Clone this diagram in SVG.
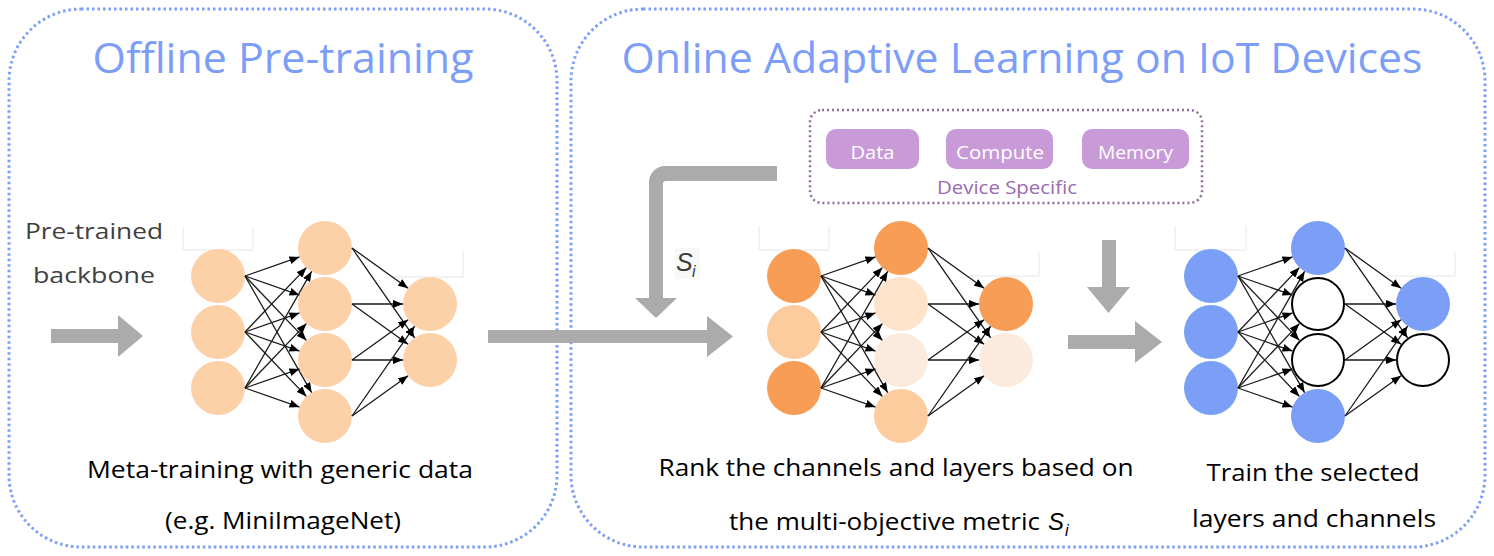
<svg xmlns="http://www.w3.org/2000/svg" xmlns:xlink="http://www.w3.org/1999/xlink" width="1494" height="556" viewBox="0 0 1494 556">
<style>
.panel{fill:none;stroke:#7C9EF7;stroke-width:3;stroke-dasharray:2.5 3}
.title{font-family:"Open Sans","Noto Sans",sans-serif;font-size:42px;fill:#7C9EF8}
.lbl{font-family:"Open Sans","Noto Sans",sans-serif;font-size:24px;fill:#000}
.side{font-family:"Open Sans","Noto Sans",sans-serif;font-size:22px;fill:#404040}
.pill{fill:#C89BD8}
.pilltxt{font-family:"Open Sans","Noto Sans",sans-serif;font-size:19px;fill:#fff}
.dev{font-family:"Open Sans","Noto Sans",sans-serif;font-size:18px;fill:#9B6AB0}
.math{font-family:"Liberation Sans",Arial,sans-serif;font-style:italic;fill:#3a3a3a}
.arrow{fill:#ABABAB}
.edge{stroke:#1a1a1a;stroke-width:1.3;fill:none;marker-end:url(#ah)}
.peach{fill:#FCD1A8}
.dark{fill:#F89D56}
.mid{fill:#FCCB9E}
.lt1{fill:#FDE3C9}
.lt2{fill:#FCEBDC}
.blue{fill:#7B9FF7}
.open{fill:#fff;stroke:#000;stroke-width:2}
.faint{fill:none;stroke:#e6e6e6;stroke-width:1}
</style>
<defs>
<marker id="ah" viewBox="0 0 10 8" refX="10" refY="4" markerWidth="10" markerHeight="8" markerUnits="userSpaceOnUse" orient="auto">
<path d="M0,0 L10,4 L0,8 z" fill="#000"/>
</marker>
<g id="edges">
<line class="edge" x1="245" y1="276" x2="299.5" y2="256.9"/>
<line class="edge" x1="245" y1="276" x2="299.5" y2="295.1"/>
<line class="edge" x1="245" y1="276" x2="306.4" y2="340.4"/>
<line class="edge" x1="245" y1="276" x2="311.6" y2="392.6"/>
<line class="edge" x1="245" y1="332" x2="306.4" y2="267.6"/>
<line class="edge" x1="245" y1="332" x2="299.5" y2="312.9"/>
<line class="edge" x1="245" y1="332" x2="299.5" y2="351.1"/>
<line class="edge" x1="245" y1="332" x2="306.4" y2="396.4"/>
<line class="edge" x1="245" y1="388" x2="311.6" y2="271.4"/>
<line class="edge" x1="245" y1="388" x2="306.4" y2="323.6"/>
<line class="edge" x1="245" y1="388" x2="299.5" y2="368.9"/>
<line class="edge" x1="245" y1="388" x2="299.5" y2="407.1"/>
<line class="edge" x1="352" y1="248" x2="408.1" y2="288.3"/>
<line class="edge" x1="352" y1="248" x2="414.6" y2="337.8"/>
<line class="edge" x1="352" y1="304" x2="403" y2="304"/>
<line class="edge" x1="352" y1="304" x2="408.1" y2="344.3"/>
<line class="edge" x1="352" y1="360" x2="408.1" y2="319.7"/>
<line class="edge" x1="352" y1="360" x2="403" y2="360"/>
<line class="edge" x1="352" y1="416" x2="414.6" y2="326.2"/>
<line class="edge" x1="352" y1="416" x2="408.1" y2="375.7"/>
</g>
</defs>
<rect width="1494" height="556" fill="#fff"/>

<g id="panel-offline">
<rect class="panel" x="9" y="9" width="548" height="538" rx="72" ry="72"/>
<text class="title" x="283" y="73" text-anchor="middle" textLength="381" lengthAdjust="spacingAndGlyphs">Offline Pre-training</text>
</g>
<g id="panel-online">
<rect class="panel" x="571" y="9" width="914" height="538" rx="72" ry="72"/>
<text class="title" x="1022" y="73" text-anchor="middle" textLength="801" lengthAdjust="spacingAndGlyphs">Online Adaptive Learning on IoT Devices</text>
</g>

<g id="label-backbone">
<text class="side" x="94" y="239" text-anchor="middle" textLength="138" lengthAdjust="spacingAndGlyphs">Pre-trained</text>
<text class="side" x="94" y="283" text-anchor="middle" textLength="122" lengthAdjust="spacingAndGlyphs">backbone</text>
</g>

<g id="device-specific">
<rect x="810" y="110" width="392" height="93" rx="12" ry="12" fill="none" stroke="#8E6A9E" stroke-width="2.5" stroke-dasharray="2 3"/>
<rect class="pill" x="826" y="129" width="93" height="40" rx="10" ry="10"/>
<text class="pilltxt" x="872.5" y="159" text-anchor="middle" textLength="44" lengthAdjust="spacingAndGlyphs">Data</text>
<rect class="pill" x="946" y="129" width="107" height="40" rx="10" ry="10"/>
<text class="pilltxt" x="1000" y="159" text-anchor="middle" textLength="88" lengthAdjust="spacingAndGlyphs">Compute</text>
<rect class="pill" x="1082" y="129" width="107" height="40" rx="10" ry="10"/>
<text class="pilltxt" x="1135.5" y="159" text-anchor="middle" textLength="75" lengthAdjust="spacingAndGlyphs">Memory</text>
<text class="dev" x="1007" y="194" text-anchor="middle" textLength="140" lengthAdjust="spacingAndGlyphs">Device Specific</text>
</g>

<g id="faint-marks">
<polyline class="faint" points="183,227 183,250 253,250 253,227"/>
<polyline class="faint" points="463,251 463,277 393,277"/>
<polyline class="faint" points="759,226 759,250 829,250 829,226"/>
<polyline class="faint" points="1039,252 1039,276 970,276"/>
<polyline class="faint" points="1175,226 1175,250 1246,250 1246,226"/>
<polyline class="faint" points="1455,252 1455,276 1386,276"/>
</g>

<g id="net-pretrained">
<circle class="peach" cx="218" cy="276" r="27"/>
<circle class="peach" cx="218" cy="332" r="27"/>
<circle class="peach" cx="218" cy="388" r="27"/>
<circle class="peach" cx="325" cy="248" r="27"/>
<circle class="peach" cx="325" cy="304" r="27"/>
<circle class="peach" cx="325" cy="360" r="27"/>
<circle class="peach" cx="325" cy="416" r="27"/>
<circle class="peach" cx="430" cy="304" r="27"/>
<circle class="peach" cx="430" cy="360" r="27"/>
</g>
<g id="net-ranked">
<circle class="dark" cx="794" cy="276" r="27"/>
<circle class="mid" cx="794" cy="332" r="27"/>
<circle class="dark" cx="794" cy="388" r="27"/>
<circle class="dark" cx="901" cy="248" r="27"/>
<circle class="lt1" cx="901" cy="304" r="27"/>
<circle class="lt2" cx="901" cy="360" r="27"/>
<circle class="mid" cx="901" cy="416" r="27"/>
<circle class="dark" cx="1006" cy="304" r="27"/>
<circle class="lt2" cx="1006" cy="360" r="27"/>
</g>
<g id="net-selected">
<circle class="blue" cx="1211" cy="276" r="27"/>
<circle class="blue" cx="1211" cy="332" r="27"/>
<circle class="blue" cx="1211" cy="388" r="27"/>
<circle class="blue" cx="1318" cy="248" r="27"/>
<circle class="open" cx="1318" cy="304" r="26"/>
<circle class="open" cx="1318" cy="360" r="26"/>
<circle class="blue" cx="1318" cy="416" r="27"/>
<circle class="blue" cx="1423" cy="304" r="27"/>
<circle class="open" cx="1423" cy="360" r="26"/>
</g>

<g id="connectors">
<use xlink:href="#edges"/>
<use xlink:href="#edges" transform="translate(576,0)"/>
<use xlink:href="#edges" transform="translate(993,0)"/>
<path class="arrow" d="M51,329 H118 V315 L143,336 L118,357 V343 H51 Z"/>
<path class="arrow" d="M488,330 H707 V316 L733,336.5 L707,357 V343 H488 Z"/>
<path class="arrow" d="M777,166 H665 A16,16 0 0 0 649,182 V298 H635 L656,318 L677,298 H663 V184 A3,3 0 0 1 666,181 H777 Z"/>
<path class="arrow" d="M1102,240 H1116 V287 H1130 L1108.5,313 L1087,287 H1102 Z"/>
<path class="arrow" d="M1068,335 H1135 V321 L1162,342 L1135,363 V349 H1068 Z"/>
</g>

<g id="label-si">
<rect x="675" y="248" width="25" height="31" fill="#f8f8f8"/>
<text class="math" x="676" y="271" font-size="25">S</text>
<text class="math" x="692" y="277" font-size="16">i</text>
</g>

<g id="captions">
<text class="lbl" x="280" y="478" text-anchor="middle" textLength="386" lengthAdjust="spacingAndGlyphs">Meta-training with generic data</text>
<text class="lbl" x="283" y="529" text-anchor="middle" textLength="236" lengthAdjust="spacingAndGlyphs">(e.g. MiniImageNet)</text>
<text class="lbl" x="896" y="476" text-anchor="middle" textLength="475" lengthAdjust="spacingAndGlyphs">Rank the channels and layers based on</text>
<text class="lbl" x="729" y="530" textLength="311" lengthAdjust="spacingAndGlyphs">the multi-objective metric</text>
<text class="math" x="1048" y="530" font-size="24" fill="#000" style="fill:#000">S</text>
<text class="math" x="1065" y="536" font-size="16" style="fill:#000">i</text>
<text class="lbl" x="1313" y="481" text-anchor="middle" textLength="213" lengthAdjust="spacingAndGlyphs">Train the selected</text>
<text class="lbl" x="1314" y="527" text-anchor="middle" textLength="244" lengthAdjust="spacingAndGlyphs">layers and channels</text>
</g>
</svg>
